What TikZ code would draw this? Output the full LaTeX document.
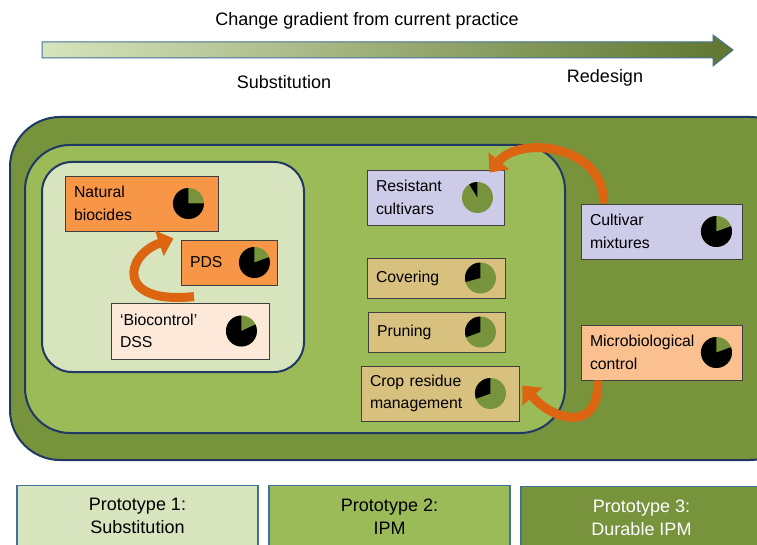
\documentclass[tikz,border=0pt]{standalone}
\usepackage{fontspec}
\setmainfont{Liberation Sans}
\usetikzlibrary{arrows.meta,calc}

\definecolor{durable}{HTML}{77933C}
\definecolor{ipm}{HTML}{9BBB59}
\definecolor{subst}{HTML}{D7E4BD}
\definecolor{frame}{HTML}{1F3864}
\definecolor{protoline}{HTML}{41719C}
\definecolor{orangebox}{HTML}{F79646}
\definecolor{peach}{HTML}{FDE9D9}
\definecolor{lavender}{HTML}{CDCBE8}
\definecolor{tan}{HTML}{D8C07E}
\definecolor{apricot}{HTML}{FAC090}
\definecolor{swoosh}{HTML}{DB6510}

\begin{document}
\begin{tikzpicture}[x=1pt,y=-1pt,
    box/.style={draw=black!75, line width=0.9pt, inner xsep=9pt, align=left,
                font=\fontsize{15.8}{22.5}\selectfont},
    proto/.style={draw=protoline, line width=1.2pt, minimum width=241pt, anchor=north,
                  align=center, inner ysep=13pt, font=\fontsize{18}{23}\selectfont},
    swap/.style={swoosh, line width=9pt, -{Triangle[length=15pt,width=26pt]}},
    lbl/.style={font=\fontsize{18}{22}\selectfont}]
    \path[use as bounding box] (0,0) rectangle (757,545);

    % Gradient arrow
    \shade[left color=subst, middle color=ipm, right color=durable!80!black, draw=protoline, line width=1pt]
        (42,42) -- (713,42) -- (713,35) -- (733,50) -- (713,66) -- (713,58) -- (42,58) -- cycle;
    \node[lbl] (grad) at (367,21) {Change gradient from current practice};
    \node[lbl] (subs) at (284,82) {Substitution};
    \node[lbl] (redes) at (605,78) {Redesign};

    % Prototype areas
    \draw[fill=durable, draw=frame, line width=2pt, rounded corners=50pt] (10,117) rectangle (800,460);
    \draw[fill=ipm, draw=frame, line width=2pt, rounded corners=45pt] (25,145) rectangle (565,433);
    \draw[fill=subst, draw=frame, line width=2pt, rounded corners=30pt] (42,162) rectangle (304,372);

    % Practices
    \node[box, fill=orangebox, text width=135pt, minimum height=55pt] (nb) at (141.5,203.5) {Natural\\biocides};
    \node[box, fill=orangebox, text width=78pt, minimum height=45pt] (pds) at (229,262.5) {PDS};
    \node[box, fill=peach, text width=140pt, minimum height=56pt] (dss) at (190,331) {‘Biocontrol’\\DSS};
    \node[box, fill=lavender, text width=119pt, minimum height=55pt] (rc) at (435.5,197.5) {Resistant\\cultivars};
    \node[box, fill=tan, text width=120pt, minimum height=40pt] (cov) at (436,278) {Covering};
    \node[box, fill=tan, text width=119pt, minimum height=40pt] (pru) at (436.5,332) {Pruning};
    \node[box, fill=tan, text width=140pt, minimum height=55pt] (crm) at (440,393.5) {Crop residue\\management};
    \node[box, fill=lavender, text width=143pt, minimum height=55pt] (cm) at (661.5,231.5) {Cultivar\\mixtures};
    \node[box, fill=apricot, text width=143pt, minimum height=55pt] (mc) at (661.5,352.5) {Microbiological\\control};

    % Pies
    \foreach \n/\d/\a/\b in {nb/30/90/360, pds/23/90/380, dss/28/90/385, rc/27/90/122,
                             cov/25/90/195, pru/25/90/200, crm/29/90/200, cm/26/90/380, mc/26/90/380}{
        \fill[durable] ($(\n.east)+(-\d,0)$) circle (15.5pt);
        \fill[black] ($(\n.east)+(-\d,0)$) -- +(\a:15.5pt) arc[start angle=\a, end angle=\b, radius=15.5pt] -- cycle;
    }

    % Swaps
    \coordinate (dsstail) at ($(dss.north)+(4,-6)$);
    \coordinate (nbtip) at ($(nb.south)+(32,7)$);
    \draw[swap] (dsstail) .. controls (115,305) and (125,255) .. (nbtip);
    \coordinate (cmtail) at ($(cm.north west)+(23,0)$);
    \coordinate (rctip) at ($(rc.north east)+(-15,3)$);
    \draw[swap] (cmtail) .. controls (605,145) and (520,135) .. (rctip);
    \coordinate (mctail) at ($(mc.south west)+(17,0)$);
    \coordinate (crmtip) at ($(crm.east)+(3,-8)$);
    \draw[swap] (mctail) .. controls (600,432) and (555,422) .. (crmtip);

    % Prototypes
    \node[proto, fill=subst] (p1) at (137.5,485) {Prototype 1:\\Substitution};
    \node[proto, fill=ipm] (p2) at (389.5,485) {Prototype 2:\\IPM};
    \node[proto, fill=durable, text=white] (p3) at (641.5,486) {Prototype 3:\\Durable IPM};
\end{tikzpicture}
\end{document}
